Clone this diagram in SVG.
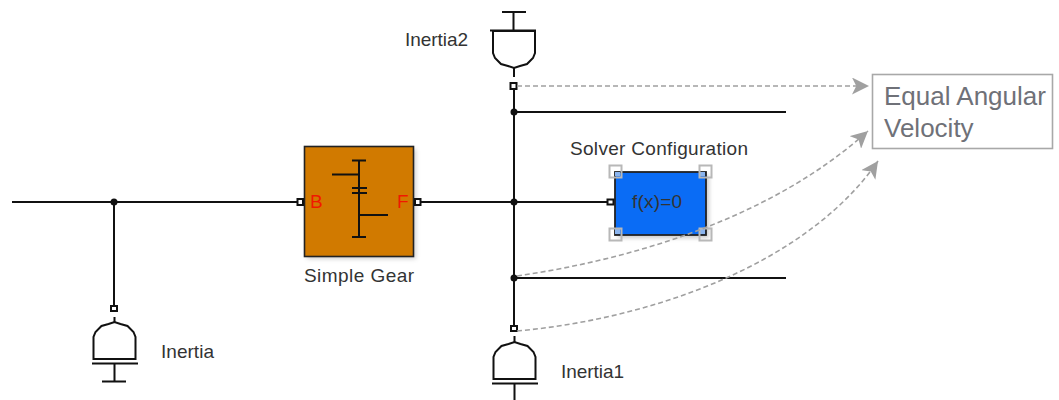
<svg xmlns="http://www.w3.org/2000/svg" width="1059" height="400" viewBox="0 0 1059 400">
<style>
text{font-family:"Liberation Sans",Arial,sans-serif;font-size:19px;fill:#333}
.w{fill:none;stroke:#111;stroke-width:2}
.s{fill:none;stroke:#111;stroke-width:2}
.p{fill:#fff;stroke:#111;stroke-width:2}
.d{fill:none;stroke:#a0a0a0;stroke-width:1.600;stroke-dasharray:5 3}
.h{fill:none;stroke:#b8b8b8;stroke-width:2}
.c{fill:#8ab4ee}
.n{font-size:26px;fill:#6f7178}
.r{font-size:19px;fill:#f01800}
</style>
<defs>
<marker id="a" viewBox="0 0 16 16" refX="16" refY="8" markerWidth="17" markerHeight="17" markerUnits="userSpaceOnUse" orient="auto"><path d="M0 0L16 8L0 16L4 8Z" fill="#a0a0a0"/></marker>
<path id="bell" d="M-21 0V-22L-19 -27L-13 -33L-6 -35L0 -37L6 -35L13 -33L19 -27L21 -22V0Z"/>
<filter id="sh" x="-10%" y="-10%" width="125%" height="125%"><feGaussianBlur stdDeviation="2"/></filter>
</defs>
<g id="gear">
<rect x="307" y="149" width="109" height="110" fill="#999" opacity=".45" filter="url(#sh)"/>
<rect x="304.500" y="146.500" width="109" height="110" fill="#d17a00" stroke="#222" stroke-width="1.600"/>
<path class="s" d="M352 160.500H366M359 160V237M332 174.500H359M352 188H367M352 193H367M359 215H388M352 237H366"/>
<rect class="p" x="297.500" y="199" width="5.500" height="6"/>
<rect class="p" x="415" y="199" width="5.500" height="6"/>
<text class="r" x="310" y="208">B</text>
<text class="r" x="397" y="208">F</text>
<text x="304" y="282" textLength="110">Simple Gear</text>
</g>
<g id="inertia2">
<path class="s" d="M502 12H526M513.500 12V30M490 30.500H536"/>
<use href="#bell" transform="translate(514 31) scale(1 -1)" fill="#fff" stroke="#111" stroke-width="2"/>
<path class="s" d="M514 68V77"/>
<rect class="p" x="510.500" y="83" width="6" height="6"/>
<text x="405" y="46" textLength="63">Inertia2</text>
</g>
<g id="inertia">
<rect class="p" x="111" y="306" width="6" height="5"/>
<use href="#bell" transform="translate(114.500 359)" fill="#fff" stroke="#111" stroke-width="2"/>
<path class="s" d="M114.500 322V317M92 363.500H138M114.500 364V381M102 381.500H126"/>
<text x="161" y="358" textLength="53">Inertia</text>
</g>
<g id="inertia1">
<rect class="p" x="511" y="326" width="6" height="5"/>
<use href="#bell" transform="translate(514.500 379)" fill="#fff" stroke="#111" stroke-width="2"/>
<path class="s" d="M514.500 342V336M492 383.500H538M514.500 384V400"/>
<text x="561" y="378" textLength="63">Inertia1</text>
</g>
<g id="solver">
<rect x="618" y="175" width="91" height="63" fill="#888" opacity=".45" filter="url(#sh)"/>
<rect x="615" y="172" width="91" height="63" fill="#0a6cf5" stroke="#222" stroke-width="1.800"/>
<rect class="p" x="607.500" y="199.500" width="6" height="5"/>
<rect class="c" x="615" y="172" width="5" height="4"/><rect class="c" x="700" y="172" width="5" height="4"/>
<rect class="c" x="615" y="229" width="5" height="5"/><rect class="c" x="700" y="229" width="5" height="5"/>
<rect class="h" x="609.500" y="165.500" width="12" height="12"/>
<rect class="h" x="699.500" y="165.500" width="12" height="12"/>
<rect class="h" x="609.500" y="228.500" width="12" height="12"/>
<rect class="h" x="699.500" y="228.500" width="12" height="12"/>
<text x="632" y="208" textLength="50">f(x)=0</text>
<text x="570" y="155" textLength="178">Solver Configuration</text>
</g>
<g id="note">
<rect x="872.500" y="74.500" width="180" height="74" fill="#fff" stroke="#a8a8a8" stroke-width="1.600"/>
<text class="n" x="884" y="105">Equal Angular</text>
<text class="n" x="884" y="137">Velocity</text>
</g>
<g id="connectors">
<path class="w" d="M12 202H297M114 202V306"/>
<path class="w" d="M421 202H607M514 89V326M514 112H786M514 278H786"/>
<path class="d" d="M517 86H869" marker-end="url(#a)"/>
<path class="d" d="M517 276C640 258 775 215 868 131" marker-end="url(#a)"/>
<path class="d" d="M517 331C660 318 810 260 878 161" marker-end="url(#a)"/>
<circle cx="114" cy="202" r="3.500" fill="#111"/>
<circle cx="514" cy="112" r="3.500" fill="#111"/>
<circle cx="514" cy="202" r="3.500" fill="#111"/>
<circle cx="514" cy="278" r="3.500" fill="#111"/>
</g>
</svg>
